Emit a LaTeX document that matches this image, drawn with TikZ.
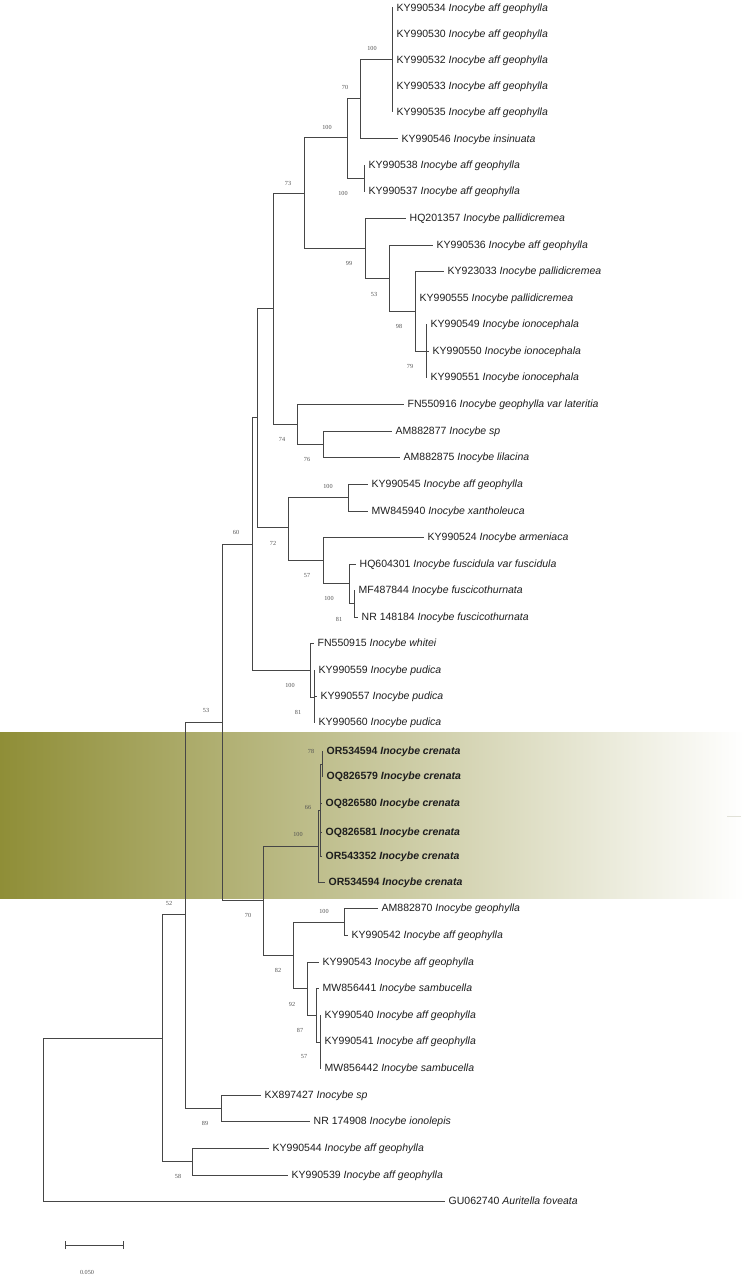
\documentclass[tikz,border=0pt]{standalone}
\usepackage{fontspec}
\setmainfont{Liberation Sans}
\newfontfamily\bsfont{Liberation Serif}
\definecolor{olivehl}{RGB}{143,142,55}
\definecolor{linec}{RGB}{70,70,70}
\definecolor{txtc}{RGB}{30,30,30}
\definecolor{bsc}{RGB}{80,80,80}
\definecolor{markc}{RGB}{225,225,215}
\begin{document}
\begin{tikzpicture}[x=1pt,y=-1pt,
  tree/.style={draw=linec,line width=1.0pt,line cap=rect},
  tipl/.style={anchor=west,inner sep=0pt,xshift=4.5pt,text height=7.5pt,text depth=0pt,font=\fontsize{10.5}{12}\selectfont,text=txtc},
  crl/.style={tipl,font=\fontsize{10.5}{12}\selectfont\bfseries},
  bsl/.style={inner sep=0pt,font=\bsfont\fontsize{6.2}{7}\selectfont,text=bsc}]
\useasboundingbox (0,0) rectangle (750,1279);
% highlight band
\shade[left color=olivehl,right color=white] (0,732) rectangle (745,898);
\draw[markc,line width=0.8pt] (727,816) -- (741,816);
% internal nodes
\coordinate (a1) at (392,60);
\coordinate (a2) at (360,99);
\coordinate (a3) at (364,178);
\coordinate (a4) at (347,138);
\coordinate (b1) at (426,351);
\coordinate (b2) at (415,311);
\coordinate (b3) at (389,278);
\coordinate (b4) at (365,248);
\coordinate (c1) at (304,193);
\coordinate (d1) at (323,444);
\coordinate (d2) at (297,424);
\coordinate (c2) at (273,308);
\coordinate (e1) at (348,497);
\coordinate (e2) at (354,603);
\coordinate (e3) at (349,583);
\coordinate (e4) at (323,560);
\coordinate (e5) at (288,527);
\coordinate (c3) at (257,417);
\coordinate (f1) at (314,697);
\coordinate (f2) at (310,670);
\coordinate (c4) at (252,544);
\coordinate (g1) at (322,764);
\coordinate (g2) at (320,810);
\coordinate (g3) at (318,846);
\coordinate (h1) at (344,922);
\coordinate (h2) at (320,1042);
\coordinate (h3) at (316,1015);
\coordinate (h4) at (307,988);
\coordinate (h5) at (293,955);
\coordinate (g4) at (263,900);
\coordinate (c5) at (222,722);
\coordinate (i1) at (221,1108);
\coordinate (c6) at (185,914);
\coordinate (j1) at (192,1161);
\coordinate (c7) at (162,1038);
\coordinate (r) at (43,1120);
% leaves
\node[tipl] (l1) at (392,8) {KY990534 \textit{Inocybe aff geophylla}};
\node[tipl] (l2) at (392,34) {KY990530 \textit{Inocybe aff geophylla}};
\node[tipl] (l3) at (392,60) {KY990532 \textit{Inocybe aff geophylla}};
\node[tipl] (l4) at (392,86) {KY990533 \textit{Inocybe aff geophylla}};
\node[tipl] (l5) at (392,112) {KY990535 \textit{Inocybe aff geophylla}};
\node[tipl] (l6) at (397,139) {KY990546 \textit{Inocybe insinuata}};
\node[tipl] (l7) at (364,165) {KY990538 \textit{Inocybe aff geophylla}};
\node[tipl] (l8) at (364,191) {KY990537 \textit{Inocybe aff geophylla}};
\node[tipl] (l9) at (405,218) {HQ201357 \textit{Inocybe pallidicremea}};
\node[tipl] (l10) at (432,245) {KY990536 \textit{Inocybe aff geophylla}};
\node[tipl] (l11) at (443,271) {KY923033 \textit{Inocybe pallidicremea}};
\node[tipl] (l12) at (415,298) {KY990555 \textit{Inocybe pallidicremea}};
\node[tipl] (l13) at (426,324) {KY990549 \textit{Inocybe ionocephala}};
\node[tipl] (l14) at (428,351) {KY990550 \textit{Inocybe ionocephala}};
\node[tipl] (l15) at (426,377) {KY990551 \textit{Inocybe ionocephala}};
\node[tipl] (l16) at (403,404) {FN550916 \textit{Inocybe geophylla var lateritia}};
\node[tipl] (l17) at (391,431) {AM882877 \textit{Inocybe sp}};
\node[tipl] (l18) at (399,457) {AM882875 \textit{Inocybe lilacina}};
\node[tipl] (l19) at (367,484) {KY990545 \textit{Inocybe aff geophylla}};
\node[tipl] (l20) at (367,511) {MW845940 \textit{Inocybe xantholeuca}};
\node[tipl] (l21) at (423,537) {KY990524 \textit{Inocybe armeniaca}};
\node[tipl] (l22) at (355,564) {HQ604301 \textit{Inocybe fuscidula var fuscidula}};
\node[tipl] (l23) at (354,590) {MF487844 \textit{Inocybe fuscicothurnata}};
\node[tipl] (l24) at (357,617) {NR 148184 \textit{Inocybe fuscicothurnata}};
\node[tipl] (l25) at (313,643) {FN550915 \textit{Inocybe whitei}};
\node[tipl] (l26) at (314,670) {KY990559 \textit{Inocybe pudica}};
\node[tipl] (l27) at (316,696) {KY990557 \textit{Inocybe pudica}};
\node[tipl] (l28) at (314,722) {KY990560 \textit{Inocybe pudica}};
\node[crl] (l29) at (322,751) {OR534594 \textit{Inocybe crenata}};
\node[crl] (l30) at (322,776) {OQ826579 \textit{Inocybe crenata}};
\node[crl] (l31) at (321,803) {OQ826580 \textit{Inocybe crenata}};
\node[crl] (l32) at (321,832) {OQ826581 \textit{Inocybe crenata}};
\node[crl] (l33) at (321,856) {OR543352 \textit{Inocybe crenata}};
\node[crl] (l34) at (324,882) {OR534594 \textit{Inocybe crenata}};
\node[tipl] (l35) at (377,908) {AM882870 \textit{Inocybe geophylla}};
\node[tipl] (l36) at (347,935) {KY990542 \textit{Inocybe aff geophylla}};
\node[tipl] (l37) at (318,962) {KY990543 \textit{Inocybe aff geophylla}};
\node[tipl] (l38) at (318,988) {MW856441 \textit{Inocybe sambucella}};
\node[tipl] (l39) at (320,1015) {KY990540 \textit{Inocybe aff geophylla}};
\node[tipl] (l40) at (320,1041) {KY990541 \textit{Inocybe aff geophylla}};
\node[tipl] (l41) at (320,1068) {MW856442 \textit{Inocybe sambucella}};
\node[tipl] (l42) at (260,1095) {KX897427 \textit{Inocybe sp}};
\node[tipl] (l43) at (309,1121) {NR 174908 \textit{Inocybe ionolepis}};
\node[tipl] (l44) at (268,1148) {KY990544 \textit{Inocybe aff geophylla}};
\node[tipl] (l45) at (287,1175) {KY990539 \textit{Inocybe aff geophylla}};
\node[tipl] (l46) at (444,1201) {GU062740 \textit{Auritella foveata}};
% internal branches
\foreach \p/\c in {r/c7,c7/c6,c7/j1,c6/c5,c6/i1,c5/c4,c5/g4,c4/c3,c4/f2,c3/c2,c3/e5,c2/c1,c2/d2,c1/a4,c1/b4,a4/a2,a4/a3,a2/a1,b4/b3,b3/b2,b2/b1,d2/d1,e5/e1,e5/e4,e4/e3,e3/e2,f2/f1,g4/g3,g4/h5,g3/g2,g2/g1,h5/h1,h5/h4,h4/h3,h3/h2}
  \draw[tree] (\p) |- (\c);
% terminal branches
\foreach \p/\c in {a1/l1,a1/l2,a1/l3,a1/l4,a1/l5,a2/l6,a3/l7,a3/l8,b4/l9,b3/l10,b2/l11,b2/l12,b1/l13,b1/l14,b1/l15,d2/l16,d1/l17,d1/l18,e1/l19,e1/l20,e4/l21,e3/l22,e2/l23,e2/l24,f2/l25,f1/l26,f1/l27,f1/l28,g1/l29,g1/l30,g2/l31,g2/l32,g2/l33,g3/l34,h1/l35,h1/l36,h4/l37,h3/l38,h2/l39,h2/l40,h2/l41,i1/l42,i1/l43,j1/l44,j1/l45,r/l46}
  \draw[tree,shorten >=4.5pt] (\p) |- (\c.west);
% bootstrap values
\node[bsl] (s1) at (372,48) {100};
\node[bsl] (s2) at (345,87) {70};
\node[bsl] (s3) at (327,127) {100};
\node[bsl] (s4) at (343,193) {100};
\node[bsl] (s5) at (288,183) {73};
\node[bsl] (s6) at (349,263) {99};
\node[bsl] (s7) at (374,294) {53};
\node[bsl] (s8) at (399,326) {98};
\node[bsl] (s9) at (410,366) {79};
\node[bsl] (s10) at (282,439) {74};
\node[bsl] (s11) at (307,459) {76};
\node[bsl] (s12) at (328,486) {100};
\node[bsl] (s13) at (273,543) {72};
\node[bsl] (s14) at (307,575) {57};
\node[bsl] (s15) at (329,598) {100};
\node[bsl] (s16) at (339,619) {81};
\node[bsl] (s17) at (236,532) {60};
\node[bsl] (s18) at (290,685) {100};
\node[bsl] (s19) at (298,712) {81};
\node[bsl] (s20) at (206,710) {53};
\node[bsl] (s21) at (311,751) {78};
\node[bsl] (s22) at (308,807) {66};
\node[bsl] (s23) at (298,834) {100};
\node[bsl] (s24) at (169,903) {52};
\node[bsl] (s25) at (248,915) {70};
\node[bsl] (s26) at (324,911) {100};
\node[bsl] (s27) at (278,970) {82};
\node[bsl] (s28) at (292,1004) {92};
\node[bsl] (s29) at (300,1030) {87};
\node[bsl] (s30) at (304,1056) {57};
\node[bsl] (s31) at (205,1123) {89};
\node[bsl] (s32) at (178,1176) {58};
% scale bar
\coordinate (sb1) at (65,1245);
\coordinate (sb2) at (123,1245);
\draw[tree,line cap=butt] (sb1) -- (sb2);
\draw[tree,line cap=butt] ([yshift=-4pt]sb1) -- ([yshift=4pt]sb1);
\draw[tree,line cap=butt] ([yshift=-4pt]sb2) -- ([yshift=4pt]sb2);
\node[bsl] (sbl) at (87,1272) {0.050};
\end{tikzpicture}
\end{document}
